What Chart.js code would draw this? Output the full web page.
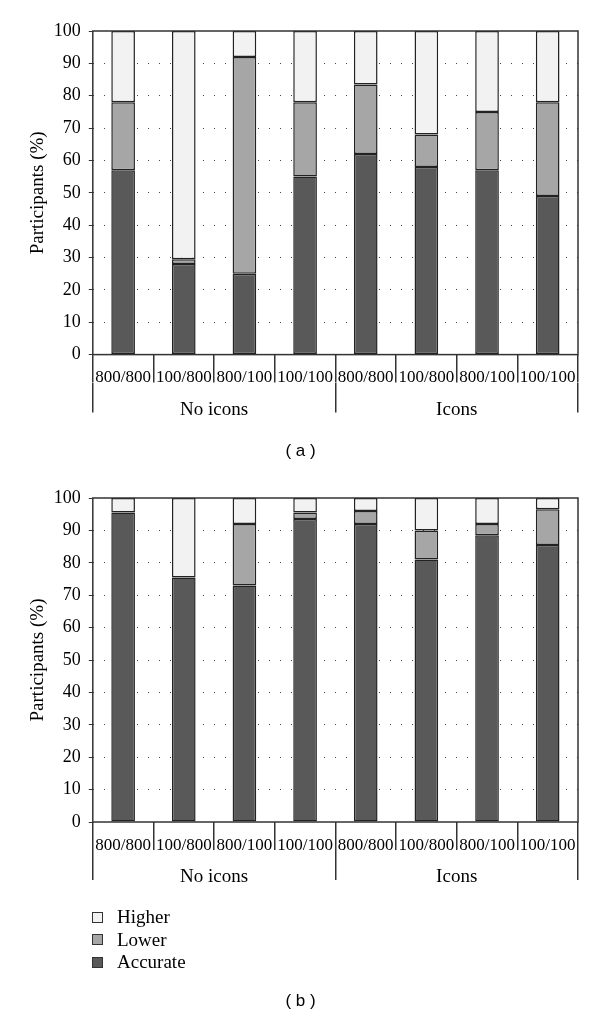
<!DOCTYPE html>
<html>
<head>
<meta charset="utf-8">
<script src="https://cdn.jsdelivr.net/npm/chart.js@4.4.0/dist/chart.umd.min.js"></script>
<style>
body { margin: 0; background: #fff; }
#wrap { position: relative; width: 600px; height: 1023px; }
canvas { position: absolute; left: 0; }
#chartA { top: 0; }
#chartB { top: 470px; }
#legenda { position: absolute; left: 92px; top: 906px; font: 19px "Liberation Serif", serif; color: #000; }
.eilute { height: 22.5px; display: flex; align-items: center; }
.kvadratas { width: 9px; height: 9px; border: 1px solid #333; margin-right: 14px; }
</style>
</head>
<body>
<div id="wrap">
  <canvas id="chartA" width="600" height="470"></canvas>
  <canvas id="chartB" width="600" height="553"></canvas>
  <div id="legenda"></div>
</div>
<script>
const kategorijos = ['800/800', '100/800', '800/100', '100/100', '800/800', '100/800', '800/100', '100/100'];
const grupes = ['No icons', 'Icons'];
const serijos = ['Accurate', 'Lower', 'Higher'];
const spalvos = ['#595959', '#a6a6a6', '#f2f2f2'];
const yTikai = [0, 10, 20, 30, 40, 50, 60, 70, 80, 90, 100];

// (a)
const aAccurate = [57, 28, 25, 55, 62, 58, 57, 49];
const aLower = [21, 1.5, 67, 23, 21.5, 10, 18, 29];
const aHigher = [22, 70.5, 8, 22, 16.5, 32, 25, 22];

// (b)
const bAccurate = [95.5, 75.5, 73, 93.5, 92, 81, 88.5, 85.5];
const bLower = [0, 0, 19, 2, 4, 9, 3.5, 11];
const bHigher = [4.5, 24.5, 8, 4.5, 4, 10, 8, 3.5];

const serif = '"Liberation Serif", "Times New Roman", serif';

// remelis aplink braizymo sriti
const remelis = {
    id: 'remelis',
    afterDatasetsDraw(chart) {
        const { ctx, chartArea: a } = chart;
        ctx.save();
        ctx.strokeStyle = '#333';
        ctx.lineWidth = 1.5;
        ctx.strokeRect(a.left, a.top, a.right - a.left, a.bottom - a.top);
        ctx.restore();
    }
};

function piesk(id, reiksmes, antraste, virsus, titloTarpas, apacia) {
    return new Chart(document.getElementById(id), {
        type: 'bar',
        data: {
            labels: kategorijos,
            datasets: reiksmes.map((r, i) => ({
                label: serijos[i],
                data: r,
                backgroundColor: spalvos[i],
                borderColor: '#222',
                borderWidth: 1.5,
                borderSkipped: false,
                barPercentage: 0.39,
                categoryPercentage: 1
            }))
        },
        options: {
            responsive: false,
            animation: false,
            layout: { padding: { top: virsus, left: 23, right: 22, bottom: 0 } },
            plugins: {
                legend: { display: false },
                tooltip: { enabled: false },
                title: {
                    display: true,
                    position: 'bottom',
                    text: antraste,
                    color: '#000',
                    font: { family: '"Liberation Sans", Arial, sans-serif', size: 17, weight: 'normal' },
                    padding: { top: titloTarpas, bottom: apacia }
                }
            },
            scales: {
                x: {
                    stacked: true,
                    offset: true,
                    grid: { offset: true, drawOnChartArea: false, tickLength: 28, color: '#333', lineWidth: 1.5 },
                    border: { display: false },
                    ticks: { padding: -15, color: '#000', maxRotation: 0, autoSkip: false, font: { family: serif, size: 17 } },
                    afterFit: s => { s.height = 28; }
                },
                x2: {
                    type: 'category',
                    labels: grupes,
                    position: 'bottom',
                    offset: true,
                    grid: { offset: true, drawOnChartArea: false, tickLength: 30, color: '#333', lineWidth: 1.5 },
                    border: { display: false },
                    ticks: { padding: -14, color: '#000', maxRotation: 0, font: { family: serif, size: 19 } },
                    afterFit: s => { s.height = 40; }
                },
                y: {
                    stacked: true,
                    min: yTikai[0],
                    max: yTikai[yTikai.length - 1],
                    afterBuildTicks: s => { s.ticks = yTikai.map(v => ({ value: v })); },
                    ticks: { padding: 8, color: '#000', font: { family: serif, size: 18 } },
                    grid: {
                        color: c => (c.tick && (c.tick.value === 0 || c.tick.value === 100)) ? 'rgba(0,0,0,0)' : '#444',
                        tickColor: '#333',
                        tickLength: 4,
                        lineWidth: 1
                    },
                    border: { display: false, dash: [1, 10] },
                    title: { display: true, text: 'Participants (%)', color: '#000', font: { family: serif, size: 19 }, padding: { top: 4, bottom: -4 } }
                }
            }
        },
        plugins: [remelis]
    });
}

piesk('chartA', [aAccurate, aLower, aHigher], '( a )', 31, 19, 8);
piesk('chartB', [bAccurate, bLower, bHigher], '( b )', 28, 101, 11.6);

// legenda: Higher, Lower, Accurate
const legenda = document.getElementById('legenda');
[2, 1, 0].forEach(i => {
    const eil = document.createElement('div');
    eil.className = 'eilute';
    const kv = document.createElement('span');
    kv.className = 'kvadratas';
    kv.style.backgroundColor = spalvos[i];
    const tekstas = document.createElement('span');
    tekstas.textContent = serijos[i];
    eil.appendChild(kv);
    eil.appendChild(tekstas);
    legenda.appendChild(eil);
});
</script>
</body>
</html>
